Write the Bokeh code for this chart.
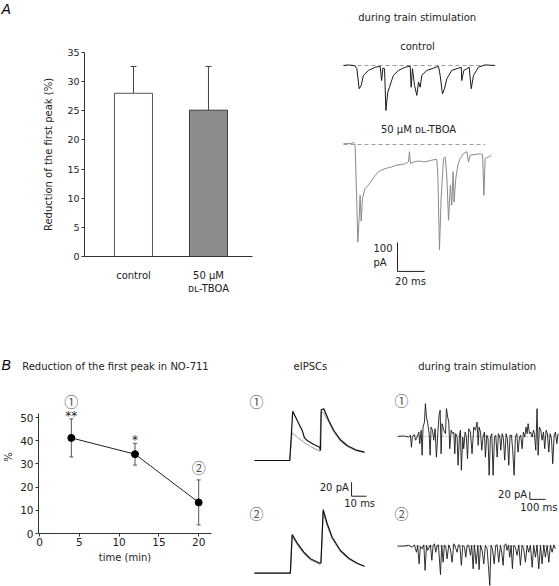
import numpy as np
from bokeh.plotting import figure
from bokeh.models import Range1d, FixedTicker, Label, Whisker, TeeHead, ColumnDataSource
from bokeh.layouts import row, column
from bokeh.embed import file_html
from bokeh.resources import INLINE

FONT = "DejaVu Sans"
CJK = "Noto Sans CJK JP"
TXT = "#222222"


def fs(px):
    return f"{px:.1f}px"


# ---------------- data ----------------
bar_categories = ["control", "50 µM\nᴅʟ-TBOA"]
bar_means = [28.0, 25.1]
bar_sems = [4.6, 7.5]
bar_ticks = [0, 5, 10, 15, 20, 25, 30, 35]

time_min = [4, 12, 20]
reduction_mean = [41.2, 34.2, 13.4]
reduction_sem = [8.2, 4.7, 9.7]
significance = ["**", "*", ""]
time_ticks = [0, 5, 10, 15, 20]
pct_ticks = [0, 10, 20, 30, 40, 50]

# Panel A traces (ms, pA)
ctrl_t = [0, 3.7, 8.6, 9.9, 11.6, 13.1, 14.8, 18.5, 23.5, 27.2, 28.2, 29.2, 30.4, 31.4, 32.8, 34.1, 35.3,
          37.0, 40.7, 45.7, 49.4, 50.1, 51.1, 52.6, 54.3, 55.6, 56.8, 58.0, 61.7, 66.7, 70.4, 71.6, 73.3,
          74.8, 76.5, 80.2, 85.2, 87.2, 87.6, 89.1, 91.4, 93.1, 94.6, 96.3, 100.0, 104.9, 112.3]
ctrl_pA = [0, 2, -1, -11, -80, -69, -34, -17, -6, -3, -52, -9, -11, -155, -92, -75, -57,
           -34, -17, -6, -2, -75, -11, -69, -103, -57, -75, -34, -17, -9, -3, -34, -98,
           -80, -46, -17, -9, -6, -52, -17, -11, -6, -80, -34, -6, 2, 0]
tboa_t = [0, 4.9, 7.4, 8.6, 9.9, 10.6, 11.6, 12.3, 13.1, 14.1, 16.0, 18.5, 21.0, 23.5, 25.9, 28.4, 30.9,
          33.3, 35.8, 39.5, 43.2, 45.7, 48.1, 48.9, 49.6, 51.9, 55.6, 60.5, 65.4, 69.1, 69.9, 71.1, 72.3,
          74.1, 75.3, 76.5, 77.8, 79.2, 80.2, 81.2, 81.9, 83.2, 84.7, 86.4, 88.9, 91.4, 92.6, 93.8, 97.5,
          101.2, 103.0, 104.0, 104.9, 107.4, 109.4]
tboa_pA = [3, 3, 7, -2, -209, -336, -255, -175, -264, -184, -152, -140, -123, -106, -94, -88, -83,
           -80, -77, -71, -69, -66, -60, -25, -66, -60, -57, -60, -54, -51, -106, -364, -186,
           -48, -43, -106, -261, -140, -209, -94, -198, -117, -71, -48, -31, -25, -60, -37, -34,
           -32, -34, -175, -48, -43, -37]

# Panel B eIPSCs (ms, pA)
e1_black_t = [0, 23.5, 25.5, 28.5, 31.8, 33.3, 35.1, 39.5, 43.5, 44.0, 44.5, 46.2, 49.5, 52.9, 57.3, 61.8, 67.3, 73.3]
e1_black_pA = [0, 0, 70.4, 57.1, 42.9, 32.4, 28.6, 22.9, 19.0, 14.3, 72.4, 73.9, 57.1, 42.9, 29.6, 21.4, 15.3, 11.9]
e1_grey_t = [0, 23.5, 25.1, 28.5, 32.9, 37.3, 43.5, 44.3, 45.8, 49.5, 52.9, 57.3, 61.8, 67.3, 73.3]
e1_grey_pA = [0, 0, 39.6, 33.3, 26.1, 20.0, 13.3, 68.6, 69.0, 54.7, 40.4, 27.6, 20.0, 14.3, 11.4]
e2_black_t = [0, 23.9, 25.1, 28.5, 32.9, 37.3, 43.5, 44.3, 45.8, 48.5, 51.8, 57.3, 62.9, 68.5, 73.3]
e2_black_pA = [0, 0, 55.3, 42.9, 30.0, 20.6, 14.3, 15.0, 90.6, 70.6, 51.4, 32.4, 21.4, 14.3, 10.0]
e2_grey_t = [0, 23.9, 25.1, 28.5, 32.9, 37.3, 43.5, 44.3, 45.8, 48.5, 51.8, 57.3, 62.9, 68.5, 73.3]
e2_grey_pA = [0, 0, 52.4, 40.5, 28.0, 19.0, 13.0, 14.0, 87.1, 67.5, 49.0, 30.5, 20.0, 13.5, 9.5]

# Panel B train traces (ms, pA)
tr1_t = [0, 38, 70, 81, 87, 93, 106, 113, 123, 134, 140, 149, 155, 161, 170, 176, 183, 191, 200, 206, 212,
         221, 229, 238, 246, 255, 263, 270, 276, 282, 293, 304, 310, 318, 325, 331, 340, 348, 357, 363, 369,
         378, 384, 393, 399, 405, 414, 420, 429, 437, 444, 452, 463, 473, 484, 495, 505, 512, 518, 527, 535,
         543, 552, 558, 567, 575, 582, 590, 599, 607, 616, 624, 633, 641, 650, 656, 665, 673, 681, 690, 698,
         707, 715, 724, 732, 741, 749, 758, 766, 775, 783, 792, 800, 809, 817, 824, 830, 839, 847, 856, 864,
         870, 879, 887, 894, 902, 911, 919, 928, 936, 945, 953, 962, 970, 979, 987, 996, 1004, 1013, 1021]
tr1_pA = [0, 1, -2, 3, -28, 0, 5, -10, -2, 11, -19, 16, -49, 24, 37, 85, 50, 33, 7, -49, 24,
          16, -10, 20, -54, 7, 55, 68, -45, 33, 16, 7, 72, 50, 37, -32, 16, 7, 11, -45, 7,
          -2, -75, 3, 16, -88, -2, -32, 11, -2, -58, 20, 11, -45, 24, 16, 37, -23, 24, 11, -36,
          -2, 11, -54, 3, -6, -101, -2, 7, -101, -2, 3, -54, 7, -2, -36, 7, -6, -62, 7, -6,
          -75, 3, 3, -36, -101, -2, 7, -41, -2, 3, -32, 11, -2, 24, 7, 33, 7, 11, -2, 16,
          7, -36, 72, -49, 24, 16, -10, 11, -32, 16, 7, -41, 7, -6, -71, 3, 11, -19, 7]
tr2_t = [0, 38, 70, 91, 106, 119, 127, 136, 144, 155, 166, 174, 183, 191, 200, 208, 217, 225, 234, 242,
         251, 259, 272, 280, 289, 297, 306, 314, 325, 335, 346, 357, 367, 378, 386, 395, 405, 414, 425, 433,
         442, 452, 463, 471, 480, 488, 499, 510, 518, 527, 537, 548, 558, 569, 577, 586, 594, 603, 614, 624,
         633, 643, 654, 662, 671, 679, 688, 696, 705, 713, 722, 730, 739, 749, 760, 771, 781, 792, 802, 813,
         824, 834, 845, 856, 866, 877, 887, 898, 909, 919, 930, 940, 951, 962, 972, 983, 994, 1004]
tr2_pA = [0, 0, 2, -3, 3, -16, 2, -46, -1, -7, 3, -63, 2, -11, -3, 3, -37, 2, 6, -16,
          2, 3, -74, 2, -42, 3, -3, -33, 3, -7, -42, 6, -3, -16, 3, 2, -50, 2, -3, -29,
          2, 2, -24, 2, -59, 3, -46, 2, -61, 2, -11, -46, 2, -7, -50, -102, 2, -7, -46, 2,
          3, -42, 2, -16, -50, 2, 6, -11, 3, -29, 2, -59, 2, -3, -24, 3, -50, 2, -7, -42,
          2, -16, 2, -55, 2, -29, 3, -59, 2, -46, 3, -29, 2, -42, 2, -16, 3, -7]

# layout constants (offsets of stacked traces)
OFF_TBOA = -272.4
OFF_E2 = -161.0
OFF_TR2 = -285.0


def lab(p, x, y, text, size=10, align="center", color=TXT, font=FONT, style="normal", baseline="middle"):
    p.add_layout(Label(x=x, y=y, text=text, text_font=font, text_font_size=fs(size),
                       text_align=align, text_baseline=baseline, text_color=color,
                       text_font_style=style))


def trace_fig(w, h, xr, yr):
    p = figure(width=w, height=h, x_range=Range1d(*xr), y_range=Range1d(*yr),
               x_axis_type=None, y_axis_type=None, min_border=0, frame_align=False,
               output_backend="svg", toolbar_location=None, outline_line_color=None)
    return p


def style_axis(ax, ticks, label=None):
    ax.ticker = FixedTicker(ticks=ticks)
    ax.axis_line_color = "#333333"
    ax.major_tick_line_color = "#333333"
    ax.major_tick_in = 0
    ax.major_tick_out = 3
    ax.minor_tick_line_color = None
    ax.major_label_text_font = FONT
    ax.major_label_text_color = TXT
    ax.axis_label_text_font = FONT
    ax.axis_label_text_font_style = "normal"
    ax.axis_label_text_color = TXT
    if label is not None:
        ax.axis_label = label


# ---------------- Panel A: header ----------------
hA = trace_fig(300, 30, (0, 300), (30, 0))
lab(hA, 1, 8, "A", size=14, align="left", font="Liberation Sans", style="italic", color="black")

# ---------------- Panel A: bar chart ----------------
bar_pos = list(range(len(bar_categories)))
p1 = figure(width=300, height=270, x_range=Range1d(-0.653, 1.587), y_range=Range1d(0, 35),
            min_border_left=84, min_border_right=48, min_border_top=22, min_border_bottom=44,
            frame_align=False, output_backend="svg", toolbar_location=None, outline_line_color=None)
p1.xgrid.visible = False
p1.ygrid.visible = False
p1.vbar(x=bar_pos, top=bar_means, bottom=0, width=0.507,
        fill_color=["white", "#8c8c8c"], line_color=["#555555", "#3a3a3a"], line_width=1)
src1 = ColumnDataSource(dict(x=bar_pos, lo=bar_means, hi=[m + e for m, e in zip(bar_means, bar_sems)]))
p1.add_layout(Whisker(source=src1, base="x", lower="lo", upper="hi", line_color="#444444", line_width=1,
                      lower_head=None, upper_head=TeeHead(size=6, line_color="#444444", line_width=1)))
style_axis(p1.yaxis[0], bar_ticks, "Reduction of the first peak (%)")
p1.yaxis.major_label_text_font_size = fs(9.5)
p1.yaxis.axis_label_text_font_size = fs(10)
p1.yaxis.major_label_standoff = 2
p1.yaxis.axis_label_standoff = 10
style_axis(p1.xaxis[0], bar_pos)
p1.xaxis.major_tick_out = 0
p1.xaxis.major_label_overrides = {i: c for i, c in enumerate(bar_categories)}
p1.xaxis.major_label_text_font_size = fs(10)
p1.xaxis.major_label_standoff = 13

# ---------------- Panel A: traces ----------------
p2 = trace_fig(259, 300, (-31.85, 160.0), (-810.3, 224.1))
p2.line([0, 105], [0, 0], line_color="#9a9a9a", line_dash="4 3", line_width=1)
p2.line(ctrl_t, ctrl_pA, line_color="#1a1a1a", line_width=1)
p2.line([0, 105], [OFF_TBOA, OFF_TBOA], line_color="#9a9a9a", line_dash="4 3", line_width=1)
p2.line(tboa_t, np.array(tboa_pA) + OFF_TBOA, line_color="#8a8a8a", line_width=1)
SB_A_T, SB_A_I = 20, 100
sbx, sby = 40.0, -710.0
p2.line([sbx, sbx, sbx + SB_A_T], [sby + SB_A_I, sby, sby], line_color="#222222", line_width=1)
lab(p2, 54.6, 165.5, "during train stimulation")
lab(p2, 54.8, 65.5, "control")
lab(p2, 55.6, -220.7, "50 µM ᴅʟ-TBOA")
lab(p2, 22.2, -631, f"{SB_A_I}", align="left")
lab(p2, 22.2, -679, "pA", align="left")
lab(p2, 49.6, -745, f"{SB_A_T} ms")

# ---------------- Panel B: header ----------------
hB = trace_fig(230, 80, (0, 230), (80, 0))
lab(hB, 1, 64, "B", size=14, align="left", font="Liberation Sans", style="italic", color="black")
lab(hB, 21.7, 65.5, "Reduction of the first peak in NO-711", align="left")

# ---------------- Panel B: time course ----------------
p3 = figure(width=230, height=206, x_range=Range1d(-0.124, 21.61), y_range=Range1d(0, 65.95),
            min_border_left=35, min_border_right=19, min_border_top=0, min_border_bottom=53,
            frame_align=False, output_backend="svg", toolbar_location=None, outline_line_color=None)
p3.xgrid.visible = False
p3.ygrid.visible = False
src3 = ColumnDataSource(dict(x=time_min, lo=[m - e for m, e in zip(reduction_mean, reduction_sem)],
                             hi=[m + e for m, e in zip(reduction_mean, reduction_sem)]))
p3.add_layout(Whisker(source=src3, base="x", lower="lo", upper="hi", line_color="#555555", line_width=1,
                      lower_head=TeeHead(size=4, line_color="#555555", line_width=1),
                      upper_head=TeeHead(size=4, line_color="#555555", line_width=1)))
p3.line(time_min, reduction_mean, line_color="#222222", line_width=1)
p3.scatter(time_min, reduction_mean, size=7, fill_color="black", line_color="black")
style_axis(p3.xaxis[0], time_ticks, "time (min)")
style_axis(p3.yaxis[0], pct_ticks, "%")
p3.yaxis.bounds = (0, 51.7)
for ax in (p3.xaxis[0], p3.yaxis[0]):
    ax.major_label_text_font_size = fs(10.5)
    ax.axis_label_text_font_size = fs(10)
p3.xaxis.major_label_standoff = 1
p3.xaxis.axis_label_standoff = 3
p3.yaxis.major_label_standoff = 2
p3.yaxis.axis_label_standoff = 3
for t, m, e, sig in zip(time_min, reduction_mean, reduction_sem, significance):
    if sig:
        lab(p3, t, m + e + 1.4, sig, size=12)
lab(p3, time_min[0], 57.2, "①", size=14, font=CJK, color="#555555")
lab(p3, time_min[2], 28.7, "②", size=14, font=CJK, color="#555555")

# ---------------- Panel B: eIPSCs ----------------
p4 = trace_fig(150, 286, (-16.0, 84.0), (-180.0, 228.6))
p4.line(e1_grey_t, e1_grey_pA, line_color="#999999", line_width=1)
p4.line(e1_black_t, e1_black_pA, line_color="#111111", line_width=1.2)
p4.line(e2_grey_t, np.array(e2_grey_pA) + OFF_E2, line_color="#999999", line_width=1)
p4.line(e2_black_t, np.array(e2_black_pA) + OFF_E2, line_color="#111111", line_width=1.2)
SB_E_T, SB_E_I = 10, 20
ex, ey = 64.7, -51.0
p4.line([ex, ex, ex + SB_E_T], [ey + SB_E_I, ey, ey], line_color="#222222", line_width=1)
lab(p4, 37.3, 134.7, "eIPSCs")
lab(p4, 1.3, 85.7, "①", size=14, font=CJK, color="#555555")
lab(p4, 1.3, -75.7, "②", size=14, font=CJK, color="#555555")
lab(p4, 62.9, -38.1, f"{SB_E_I} pA", align="right")
lab(p4, 70.1, -61.9, f"{SB_E_T} ms")

# ---------------- Panel B: train stimulation ----------------
p5 = trace_fig(179, 286, (-110.0, 1030.0), (-390.0, 353.0))
p5.line([0, 1021], [0, 0], line_color="#888888", line_dash="1 2", line_width=1)
p5.line(tr1_t, tr1_pA, line_color="#1a1a1a", line_width=0.9)
p5.line([0, 1004], [OFF_TR2, OFF_TR2], line_color="#888888", line_dash="1 2", line_width=1)
p5.line(tr2_t, np.array(tr2_pA) + OFF_TR2, line_color="#1a1a1a", line_width=0.9)
SB_T_T, SB_T_I = 100, 20
tx, ty = 841.0, -163.6
p5.line([tx, tx, tx + SB_T_T], [ty + SB_T_I, ty, ty], line_color="#222222", line_width=1)
lab(p5, 506, 182.6, "during train stimulation")
lab(p5, 23.6, 93.5, "①", size=14, font=CJK, color="#555555")
lab(p5, 23.6, -200, "②", size=14, font=CJK, color="#555555")
lab(p5, 824, -150, f"{SB_T_I} pA", align="right")
lab(p5, 898, -184, f"{SB_T_T} ms")

layout = column(row(column(hA, p1), p2), row(column(hB, p3), p4, p5))
open("out.html", "w").write(file_html(layout, INLINE))
